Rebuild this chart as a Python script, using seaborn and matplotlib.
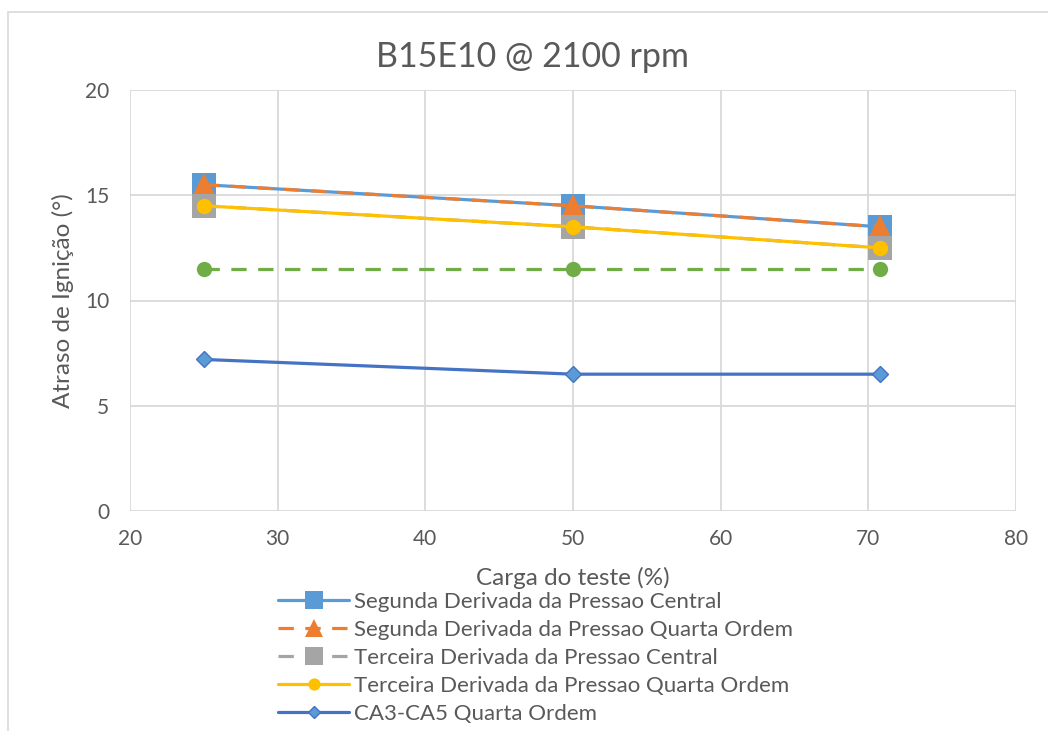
import matplotlib
matplotlib.use("Agg")
import matplotlib.pyplot as plt
from matplotlib.patches import Rectangle
import seaborn as sns

# Test load (%) and ignition delay (degrees) per method
carga = [25, 50, 70.8]
seg_central = [15.5, 14.5, 13.5]
seg_quarta = [15.5, 14.5, 13.5]
ter_central = [14.5, 13.5, 12.5]
ter_quarta = [14.5, 13.5, 12.5]
referencia = [11.5, 11.5, 11.5]
ca3_ca5 = [7.2, 6.5, 6.5]

nomes = [
    "Segunda Derivada da Pressao Central",
    "Segunda Derivada da Pressao Quarta Ordem",
    "Terceira Derivada da Pressao Central",
    "Terceira Derivada da Pressao Quarta Ordem",
    "CA3-CA5 Quarta Ordem",
]

sns.set_theme(style="whitegrid")
plt.rcParams["font.family"] = ["Lato", "DejaVu Sans"]
txt = "#595959"
grid = "#D9D9D9"

fig = plt.figure(figsize=(10.48, 7.31), dpi=100)
ax = fig.add_axes([130 / 1048, 1 - 511 / 731, (1016 - 130) / 1048, (511 - 90) / 731])

lw = 2.3
dash = (4.8, 3.6)
sns.lineplot(x=carga, y=seg_central, ax=ax, color="#5B9BD5", lw=lw,
             marker="s", markersize=17, markeredgewidth=0, label=nomes[0])
sns.lineplot(x=carga, y=seg_quarta, ax=ax, color="#ED7D31", lw=lw,
             marker="^", markersize=17, markeredgewidth=0,
             linestyle=(0, dash), label=nomes[1])
sns.lineplot(x=carga, y=ter_central, ax=ax, color="#A5A5A5", lw=lw,
             marker="s", markersize=17, markeredgewidth=0,
             linestyle=(0, dash), label=nomes[2])
sns.lineplot(x=carga, y=ter_quarta, ax=ax, color="#FFC000", lw=lw,
             marker="o", markersize=11, markeredgewidth=0, label=nomes[3])
sns.lineplot(x=carga, y=referencia, ax=ax, color="#70AD47", lw=lw,
             marker="o", markersize=11, markeredgewidth=0,
             linestyle=(0, dash), label="_nolegend_")
sns.lineplot(x=carga, y=ca3_ca5, ax=ax, color="#4472C4", lw=lw,
             marker="D", markersize=8, markerfacecolor="#5B9BD5",
             markeredgecolor="#4472C4", markeredgewidth=1, label=nomes[4])

ax.set_xlim(20, 80)
ax.set_ylim(0, 20)
ax.set_xticks(range(20, 81, 10))
ax.set_yticks(range(0, 21, 5))
ax.grid(True, color=grid, lw=1.3)
for s in ax.spines.values():
    s.set_visible(False)
ax.tick_params(axis="both", length=0, labelsize=15, labelcolor=txt)
ax.tick_params(axis="x", pad=13)
ax.tick_params(axis="y", pad=15)
ax.set_xlabel("Carga do teste (%)", fontsize=17.5, color=txt, labelpad=13)
ax.set_ylabel("Atraso de Ignição (°)", fontsize=17.5, color=txt, labelpad=8)
fig.suptitle("B15E10 @ 2100 rpm", x=533 / 1048, y=1 - 57 / 731, va="center",
             fontsize=24.5, color=txt)

handles, labels = ax.get_legend_handles_labels()
ax.get_legend().remove()
fig.legend(handles, labels, loc="upper left", bbox_to_anchor=(278 / 1048, 1 - 592 / 731),
           frameon=False, fontsize=16, labelcolor=txt, handlelength=3.2,
           handletextpad=0.2, labelspacing=0.36, borderaxespad=0, borderpad=0,
           markerscale=0.8)

fig.patches.append(Rectangle((8 / 1048, -0.2), 2, 1.2 - 12 / 731, transform=fig.transFigure,
                             fill=False, edgecolor=grid, lw=1.2))

fig.savefig("out.png", dpi=100, facecolor="white")
